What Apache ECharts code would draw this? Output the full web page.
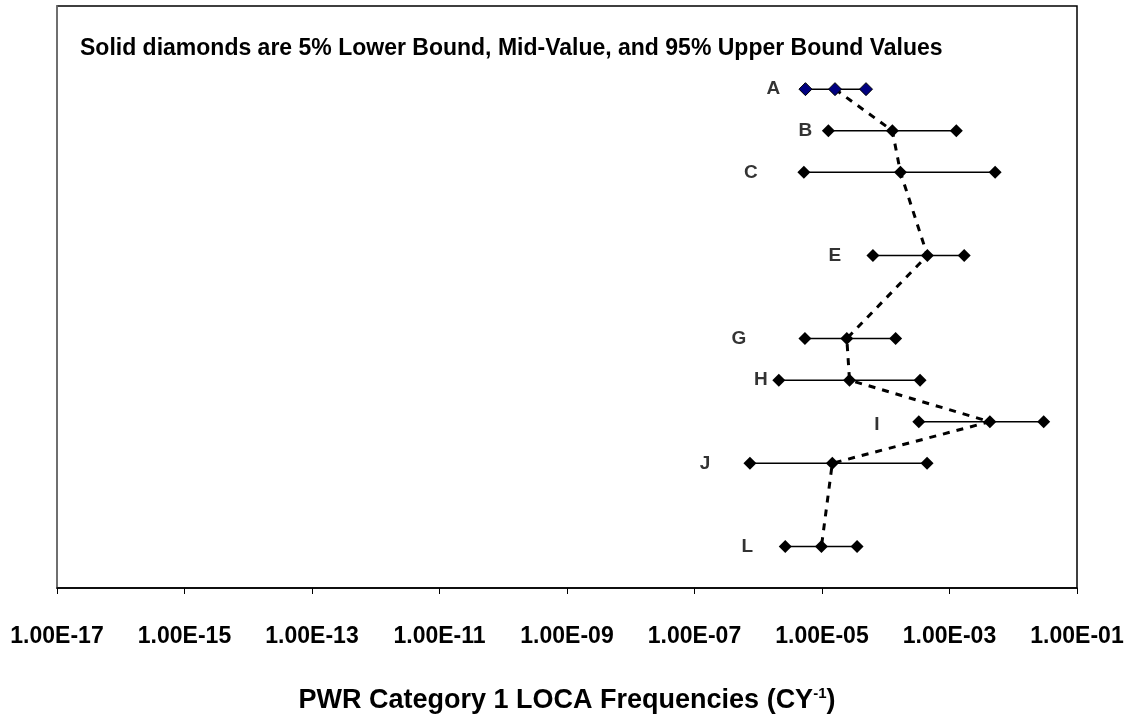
<!DOCTYPE html>
<html><head><meta charset="utf-8">
<script src="https://cdn.jsdelivr.net/npm/echarts@6/dist/echarts.min.js"></script>
<style>html,body{margin:0;padding:0;background:#fff}#c{width:1128px;height:726px}</style>
</head><body><div id="c"></div>
<script>
// ---- data ----
const categories = ['A', 'B', 'C', 'E', 'G', 'H', 'I', 'J', 'L'];
const rowPos = [2, 3, 4, 6, 8, 9, 10, 11, 13];
const lower5 = [5.5e-6, 1.26e-5, 5.2e-6, 6.3e-5, 5.4e-6, 2.1e-6, 3.3e-4, 7.4e-7, 2.65e-6];
const midValue = [1.6e-5, 1.27e-4, 1.7e-4, 4.5e-4, 2.45e-5, 2.7e-5, 4.3e-3, 1.45e-5, 9.8e-6];
const upper95 = [4.9e-5, 1.28e-3, 5.2e-3, 1.7e-3, 1.43e-4, 3.45e-4, 3.0e-2, 4.45e-4, 3.55e-5];
const titleText = 'Solid diamonds are 5% Lower Bound, Mid-Value, and 95% Upper Bound Values';
const axisTitle = 'PWR Category 1 LOCA Frequencies (CY';

// ---- styling ----
const labelOffset = [[-32,0],[-23,0],[-53,0],[-38,0],[-66,0],[-18,0],[-42,3],[-45,0],[-38,0]];
const FONT = 'Liberation Sans, Arial, sans-serif';

const series = [];
series.push({
  type: 'line',
  data: categories.map((c, i) => [midValue[i], rowPos[i]]),
  symbol: 'none',
  lineStyle: { color: '#000', width: 3, type: [7, 7] },
  z: 2, silent: true, animation: false
});
categories.forEach((c, i) => {
  series.push({
    type: 'line',
    data: [[lower5[i], rowPos[i]], [midValue[i], rowPos[i]], [upper95[i], rowPos[i]]],
    symbol: 'diamond', symbolSize: 13, showAllSymbol: true,
    lineStyle: { color: '#000', width: 1.5 },
    itemStyle: { color: i === 0 ? '#000080' : '#000', borderColor: '#000', borderWidth: i === 0 ? 1 : 0 },
    z: 3, silent: true, animation: false
  });
});
series.push({
  type: 'scatter',
  symbolSize: 1,
  itemStyle: { color: 'rgba(0,0,0,0)' },
  data: categories.map((c, i) => ({
    value: [lower5[i], rowPos[i]],
    label: { offset: labelOffset[i], formatter: c }
  })),
  label: { show: true, position: 'inside', fontSize: 19, fontWeight: 'bold', color: '#000', fontFamily: FONT },
  z: 4, silent: true, animation: false
});

const chart = echarts.init(document.getElementById('c'), null, { renderer: 'canvas' });
chart.setOption({
  animation: false,
  backgroundColor: '#fff',
  grid: { left: 57, right: 51, top: 6, bottom: 138, show: true, borderColor: '#000', borderWidth: 1.5, backgroundColor: 'transparent' },
  graphic: [{
    type: 'text', left: 80, top: 37,
    style: { text: titleText, fontSize: 23, fontWeight: 'bold', fill: '#000', fontFamily: FONT }
  }],
  xAxis: {
    type: 'log', logBase: 10, min: 1e-17, max: 1e-1, interval: 2,
    axisLine: { show: true, onZero: false, lineStyle: { color: '#000', width: 1.5 } },
    axisTick: { show: true, inside: false, length: 6, lineStyle: { color: '#000' } },
    axisLabel: {
      margin: 37, fontSize: 23, fontWeight: 'bold', color: '#000', fontFamily: FONT,
      formatter: v => { const e = Math.round(Math.log10(v)); return '1.00E' + (e < 0 ? '-' : '+') + String(Math.abs(e)).padStart(2, '0'); }
    },
    splitLine: { show: false }, minorTick: { show: false },
    name: '{a|' + axisTitle + '}{s|-1}{a|)}',
    nameLocation: 'middle', nameGap: 98,
    nameTextStyle: {
      rich: {
        a: { fontSize: 27, fontWeight: 'bold', color: '#000', fontFamily: FONT },
        s: { fontSize: 15, fontWeight: 'bold', color: '#000', fontFamily: FONT, padding: [0, 0, 14, 0] }
      }
    }
  },
  yAxis: {
    type: 'value', min: 0, max: 14, inverse: true,
    axisLine: { show: true, onZero: false, lineStyle: { color: '#808080', width: 1.5 } },
    axisTick: { show: false }, axisLabel: { show: false }, splitLine: { show: false }
  },
  series: series
});
</script>
</body></html>
